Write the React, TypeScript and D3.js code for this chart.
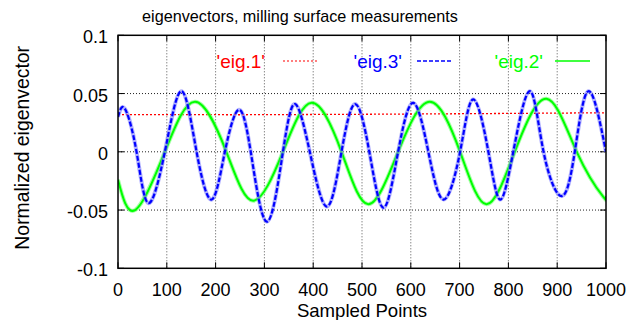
import React from "react";
import * as d3 from "d3";

const title = "eigenvectors, milling surface measurements";
const xLabel = "Sampled Points";
const yLabel = "Normalized eigenvector";

const xTicks = [0, 100, 200, 300, 400, 500, 600, 700, 800, 900, 1000];
const yTicks = [-0.1, -0.05, 0, 0.05, 0.1];
const yTickLabels = ["-0.1", "-0.05", "0", "0.05", "0.1"];

// eig.1 (red, nearly constant)
const eig1X = [0, 250, 500, 750, 1000];
const eig1Y = [0.032, 0.0318, 0.0322, 0.0328, 0.0335];

// eig.3 (blue, dashed) — peaks, zero crossings and troughs
const eig3X = [0, 14, 38, 62, 96, 130, 161, 192, 219, 247, 272, 305, 338, 363, 393, 428, 458, 486, 515, 544, 574, 605, 636, 667, 701, 728, 759, 783, 810, 844, 872, 909, 936, 964, 1000];
const eig3Y = [0.030, 0.037, 0.0, -0.044, 0.0, 0.052, 0.0, -0.041, 0.0, 0.036, 0.0, -0.060, 0.0, 0.041, 0.0, -0.047, 0.0, 0.041, 0.0, -0.048, 0.0, 0.042, 0.0, -0.041, 0.0, 0.045, 0.0, -0.041, 0.0, 0.052, 0.0, -0.038, 0.0, 0.052, 0.0];

// eig.2 (green, solid)
const eig2X = [0, 35, 96, 158, 222, 277, 338, 397, 458, 513, 574, 639, 701, 755, 813, 878, 940, 995, 1000];
const eig2Y = [-0.024, -0.050, 0.0, 0.043, 0.0, -0.042, 0.0, 0.042, 0.0, -0.045, 0.0, 0.043, 0.0, -0.045, 0.0, 0.0455, 0.0, -0.039, -0.038];

const legendNames = ["'eig.1'", "'eig.3'", "'eig.2'"];

const W = 629;
const H = 320;
const L = 118, R = 606, T = 35.3, B = 268.3;
const FONT = "'Liberation Sans', Arial, Helvetica, sans-serif";
const RED = "#ff0000";
const BLUE = "#0000ff";
const GREEN = "#00ff00";

export default function App() {
  const x = d3.scaleLinear().domain([0, 1000]).range([L, R]);
  const y = d3.scaleLinear().domain([-0.1, 0.1]).range([B, T]);

  const mk = (xs: number[], ys: number[], curve: any) =>
    d3
      .line<number>()
      .x((_, i) => x(xs[i]))
      .y((d) => y(d))
      .curve(curve)(ys) || "";

  const p1 = mk(eig1X, eig1Y, d3.curveLinear);
  const p3 = mk(eig3X, eig3Y, d3.curveNatural);
  const p2 = mk(eig2X, eig2Y, d3.curveNatural);

  const legend = [
    { name: legendNames[0], color: RED, tx: 265, s0: 283, s1: 317, dash: "2,2", w: 1.2 },
    { name: legendNames[1], color: BLUE, tx: 402, s0: 417, s1: 451, dash: "4,2", w: 1.5 },
    { name: legendNames[2], color: GREEN, tx: 543, s0: 555, s1: 590, dash: "none", w: 1.5 },
  ];

  return (
    <svg
      width={W}
      height={H}
      style={{ position: "absolute", left: 0, top: 0, background: "#fff" }}
      fontFamily={FONT}
    >
      <rect x={0} y={0} width={W} height={H} fill="#fff" />
      {/* grid */}
      {xTicks.slice(1, -1).map((t) => (
        <line key={"gx" + t} x1={x(t)} x2={x(t)} y1={T} y2={B} stroke="#555" strokeWidth={1} strokeDasharray="1,2" />
      ))}
      {yTicks.slice(1, -1).map((t) => (
        <line key={"gy" + t} x1={L} x2={R} y1={y(t)} y2={y(t)} stroke="#222" strokeWidth={1} strokeDasharray="1,2" />
      ))}
      {/* ticks */}
      {xTicks.map((t) => (
        <g key={"tx" + t}>
          <line x1={x(t)} x2={x(t)} y1={B} y2={B - 6} stroke="#000" />
          <line x1={x(t)} x2={x(t)} y1={T} y2={T + 6} stroke="#000" />
          <text x={x(t)} y={295.5} fontSize={18} textAnchor="middle" fill="#000">
            {t}
          </text>
        </g>
      ))}
      {yTicks.map((t, i) => (
        <g key={"ty" + t}>
          <line x1={L} x2={L + 6} y1={y(t)} y2={y(t)} stroke="#000" />
          <line x1={R} x2={R - 6} y1={y(t)} y2={y(t)} stroke="#000" />
          <text x={108} y={y(t) + 8} fontSize={18} textAnchor="end" fill="#000">
            {yTickLabels[i]}
          </text>
        </g>
      ))}
      {/* data */}
      <g clipPath="url(#clip)">
        <path d={p1} fill="none" stroke={RED} strokeWidth={1.3} strokeDasharray="2,2" />
        <path d={p2} fill="none" stroke="#7fff7f" strokeWidth={4} opacity={0.7} />
        <path d={p2} fill="none" stroke={GREEN} strokeWidth={2} />
        <path d={p3} fill="none" stroke="#7f7fff" strokeWidth={4} opacity={0.6} />
        <path d={p3} fill="none" stroke={BLUE} strokeWidth={2.2} strokeDasharray="5,2" />
      </g>
      <defs>
        <clipPath id="clip">
          <rect x={L} y={T} width={R - L} height={B - T} />
        </clipPath>
      </defs>
      {/* border */}
      <rect x={L} y={T} width={R - L} height={B - T} fill="none" stroke="#000" strokeWidth={1.5} />
      {/* legend */}
      {legend.map((l) => (
        <g key={l.name}>
          <text x={l.tx} y={67.5} fontSize={19} textAnchor="end" fill={l.color}>
            {l.name}
          </text>
          <line x1={l.s0} x2={l.s1} y1={61} y2={61} stroke={l.color} strokeWidth={l.w} strokeDasharray={l.dash} />
        </g>
      ))}
      {/* titles */}
      <text x={300} y={22} fontSize={16.2} textAnchor="middle" fill="#000">
        {title}
      </text>
      <text x={(L + R) / 2} y={316.5} fontSize={18.6} textAnchor="middle" fill="#000">
        {xLabel}
      </text>
      <text
        transform={`translate(29,${(T + B) / 2 - 4}) rotate(-90)`}
        fontSize={19.4}
        textAnchor="middle"
        fill="#000"
      >
        {yLabel}
      </text>
    </svg>
  );
}
